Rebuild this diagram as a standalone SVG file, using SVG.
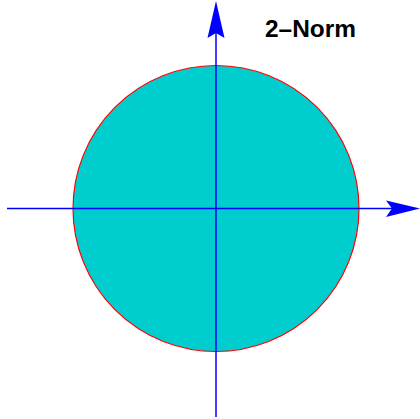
<svg xmlns="http://www.w3.org/2000/svg" width="420" height="419" viewBox="0 0 420 419">
<style>
.ax{stroke:#0000ff;stroke-width:1.5;fill:none}
.hd{fill:#0000ff;stroke:none}
.lb{font-family:"Liberation Sans",Arial,sans-serif;font-weight:bold;font-size:23px;fill:#000}
</style>
<rect width="420" height="419" fill="#fff"/>
<g id="circle">
<circle cx="216" cy="208.5" r="143" fill="#00cece" stroke="#ff0000" stroke-width="1.2"/>
</g>
<g id="connectors">
<line class="ax" x1="7" y1="208.5" x2="392" y2="208.5"/>
<polygon class="hd" points="420,208.5 386,200.5 392,208.5 386,217"/>
<line class="ax" x1="216" y1="417" x2="216" y2="33"/>
<polygon class="hd" points="216,1 207.5,38 216,33 224.5,38"/>
</g>
<g id="label">
<text class="lb" x="265" y="37.3" textLength="91" lengthAdjust="spacingAndGlyphs">2–Norm</text>
</g>
</svg>
